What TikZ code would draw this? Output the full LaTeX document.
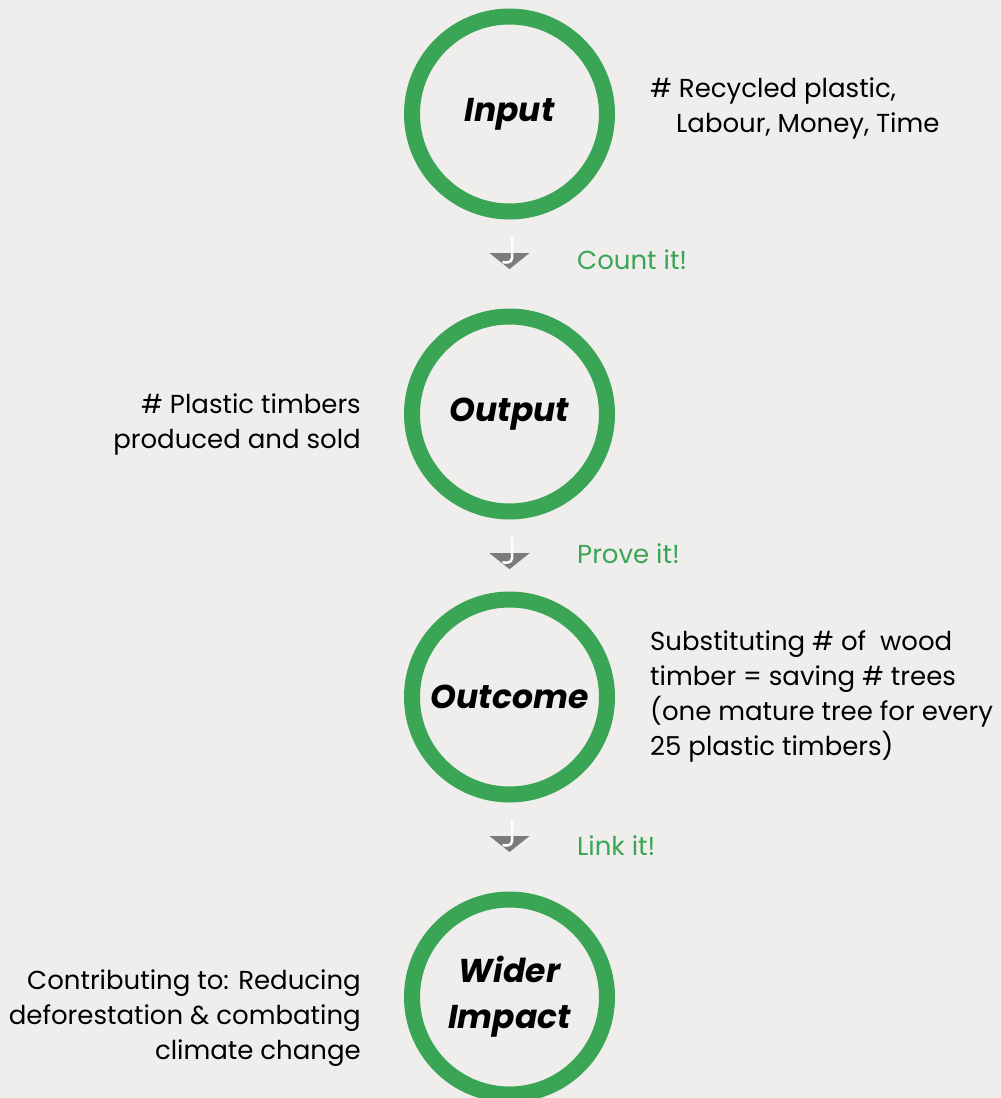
\documentclass[tikz,border=0pt]{standalone}
\usepackage{fontspec}
\setmainfont{Poppins}
\usetikzlibrary{calc,positioning}
\definecolor{ringgreen}{HTML}{3BA556}
\definecolor{paper}{HTML}{EFEEEC}
\definecolor{markgray}{HTML}{7B7B7B}
\tikzset{
	stage/.style={circle,draw=ringgreen,line width=16pt,minimum size=195pt,inner sep=0pt,align=center,
		font=\fontsize{33}{46}\selectfont\bfseries\itshape},
	note/.style={inner sep=0pt,font=\fontsize{26}{35}\selectfont},
	cue/.style={inner sep=0pt,anchor=west,text=ringgreen,font=\fontsize{26}{35}\selectfont},
}

\begin{document}
\begin{tikzpicture}[x=1pt,y=-1pt]
		\fill[paper] (0,0) rectangle (1001,1098);
		\clip (0,0) rectangle (1001,1098);

		\node[stage] (input) at (509.5,114) {Input};
		\node[stage] (output) at (509.5,414) {Output};
		\node[stage] (outcome) at (509.5,697) {Outcome};
		\node[stage] (impact) at (509.5,997) {Wider\\Impact};

		\node[note,anchor=west,align=left] (inputnote) at (650,108.5) {\#~Recycled plastic,\\\hspace*{26pt}Labour, Money, Time};
		\node[note,anchor=east,align=right] (outputnote) at (361,424.5) {\#~Plastic timbers\\produced and sold};
		\node[note,anchor=west,align=left] (outcomenote) at (650,696) {Substituting \# of~~wood\\timber = saving \# trees\\(one mature tree for every\\25 plastic timbers)};
		\node[note,anchor=east,align=right] (impactnote) at (361,1018) {Contributing to: Reducing\\deforestation \& combating\\climate change};

		\coordinate (m1) at ($(input)!0.49!(output)$);
		\coordinate (m2) at ($(output)!0.52!(outcome)$);
		\coordinate (m3) at ($(outcome)!0.49!(impact)$);
		\foreach \m in {m1,m2,m3} {
			\fill[markgray] ($(\m)+(-20,-8)$) -- ($(\m)+(20,-8)$) -- ($(\m)+(0,8)$) -- cycle;
			\draw[white,line width=2.5pt] ($(\m)+(2.5,-24)$) -- ($(\m)+(2.5,-3)$) .. controls ($(\m)+(2.5,2)$) and ($(\m)+(-4,2)$) .. ($(\m)+(-7,1)$);
		}

		\node[cue] (count) at (577,260) {Count it!};
		\node[cue] (prove) at (577,554) {Prove it!};
		\node[cue] (link) at (577,846) {Link it!};
	\end{tikzpicture}
\end{document}
